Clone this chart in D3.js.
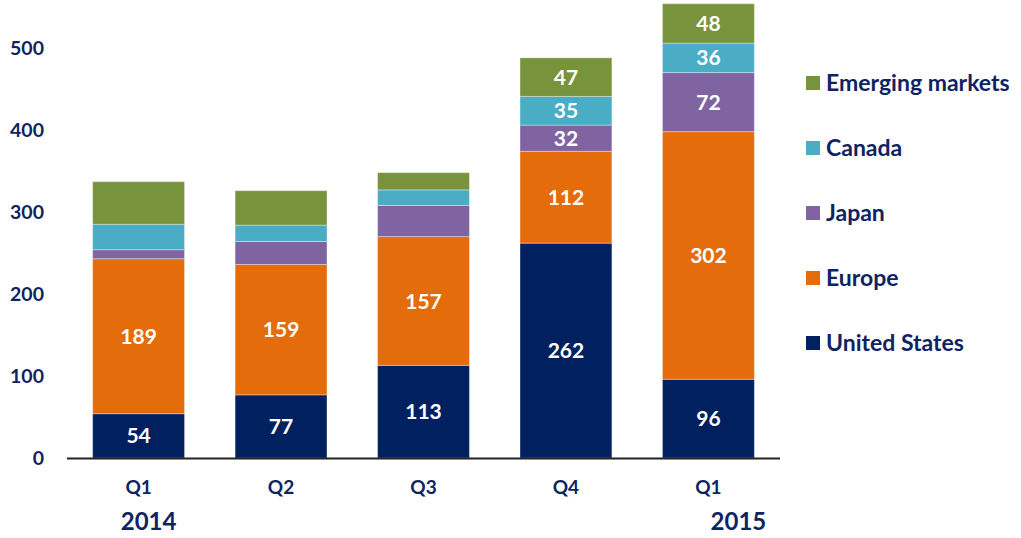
<!DOCTYPE html>
<html>
<head>
<meta charset="utf-8">
<script src="https://cdn.jsdelivr.net/npm/d3@7"></script>
<style>
	body { margin: 0; background: #fff; }
	text { font-family: Lato, "Open Sans", sans-serif; font-weight: bold; }
</style>
</head>
<body>
<div id="chart"></div>
<script>
const quarters = ["Q1", "Q2", "Q3", "Q4", "Q1 "];
const years = [{q: 0, label: "2014"}, {q: 4, label: "2015"}];
const seriesNames = ["United States", "Europe", "Japan", "Canada", "Emerging markets"];
const unitedStates = [54, 77, 113, 262, 96];
const europe = [189, 159, 157, 112, 302];
const japan = [11, 28, 38, 32, 72];
const canada = [31, 20, 19, 35, 36];
const emerging = [52, 42, 21, 47, 48];
const showAllLabels = [false, false, false, true, true];
const yTicks = [0, 100, 200, 300, 400, 500];
const colors = ["#002060", "#e46c0a", "#8064a2", "#4bacc6", "#77933c"];

const navy = "#0f2362";
const width = 1021, height = 538;
const margin = {top: 48, left: 67, right: 241, bottom: 80};

const svg = d3.select("#chart").append("svg")
	.attr("width", width)
	.attr("height", height);

let rows = quarters.map((q, i) => ({
	quarter: q,
	"United States": unitedStates[i],
	"Europe": europe[i],
	"Japan": japan[i],
	"Canada": canada[i],
	"Emerging markets": emerging[i]
}));
let stacked = d3.stack().keys(seriesNames)(rows);

let x = d3.scaleBand()
	.domain(quarters)
	.range([margin.left, width - margin.right])
	.paddingInner(0.355)
	.paddingOuter(0.18);

let y = d3.scaleLinear()
	.domain([0, 500])
	.range([height - margin.bottom, margin.top]);

// y axis labels only, no line
svg.append("g")
	.selectAll("text")
	.data(yTicks)
	.enter()
	.append("text")
	.attr("x", 44)
	.attr("y", d => y(d))
	.attr("dy", "0.35em")
	.attr("text-anchor", "end")
	.attr("fill", navy)
	.style("font-size", "19.5px")
	.text(d => d);

// bars
stacked.forEach((layer, s) => {
	let g = svg.append("g").attr("fill", colors[s]);
	g.selectAll("rect")
		.data(layer)
		.enter()
		.append("rect")
		.attr("x", d => x(d.data.quarter))
		.attr("y", d => y(d[1]))
		.attr("width", x.bandwidth())
		.attr("height", d => y(d[0]) - y(d[1]))
		.attr("stroke", "rgba(255,255,255,0.35)")
		.attr("stroke-width", 1);

	g.selectAll("text")
		.data(layer.filter((d, i) => s < 2 || showAllLabels[i]))
		.enter()
		.append("text")
		.attr("x", d => x(d.data.quarter) + x.bandwidth() / 2)
		.attr("y", d => (y(d[0]) + y(d[1])) / 2)
		.attr("dy", "0.36em")
		.attr("text-anchor", "middle")
		.attr("fill", "#fff")
		.style("font-size", "21px")
		.text(d => d[1] - d[0]);
});

// x axis
let xAxis = g => g
	.attr("transform", `translate(0,${y(0)})`)
	.call(d3.axisBottom(x).tickSize(0).tickPadding(23).tickFormat(d => d.trim()));

svg.append("g")
	.attr("class", "xaxis")
	.call(xAxis)
	.call(g => g.select(".domain").attr("d", `M${margin.left},0.5H${width - margin.right}`).attr("stroke", "#222").attr("stroke-width", 2))
	.call(g => g.selectAll("text")
		.attr("fill", navy)
		.style("font-size", "19px")
		.style("font-family", "Lato, 'Open Sans', sans-serif")
		.style("font-weight", "bold"));

svg.append("g")
	.selectAll("text")
	.data(years)
	.enter()
	.append("text")
	.attr("x", (d, i) => x(quarters[d.q]) + x.bandwidth() / 2 + (i === 0 ? 10 : 30))
	.attr("y", 530)
	.attr("text-anchor", "middle")
	.attr("fill", navy)
	.style("font-size", "24px")
	.text(d => d.label);

// legend, top to bottom reversed
let legend = svg.append("g")
	.selectAll("g")
	.data(seriesNames.map((n, i) => ({name: n, color: colors[i]})).reverse())
	.enter()
	.append("g")
	.attr("transform", (d, i) => `translate(806,${83 + i * 65})`);

legend.append("rect")
	.attr("x", 0)
	.attr("y", -7)
	.attr("width", 14)
	.attr("height", 14)
	.attr("fill", d => d.color);

legend.append("text")
	.attr("x", 20)
	.attr("dy", "0.36em")
	.attr("fill", navy)
	.style("font-size", "23px")
	.text(d => d.name);
</script>
</body>
</html>
